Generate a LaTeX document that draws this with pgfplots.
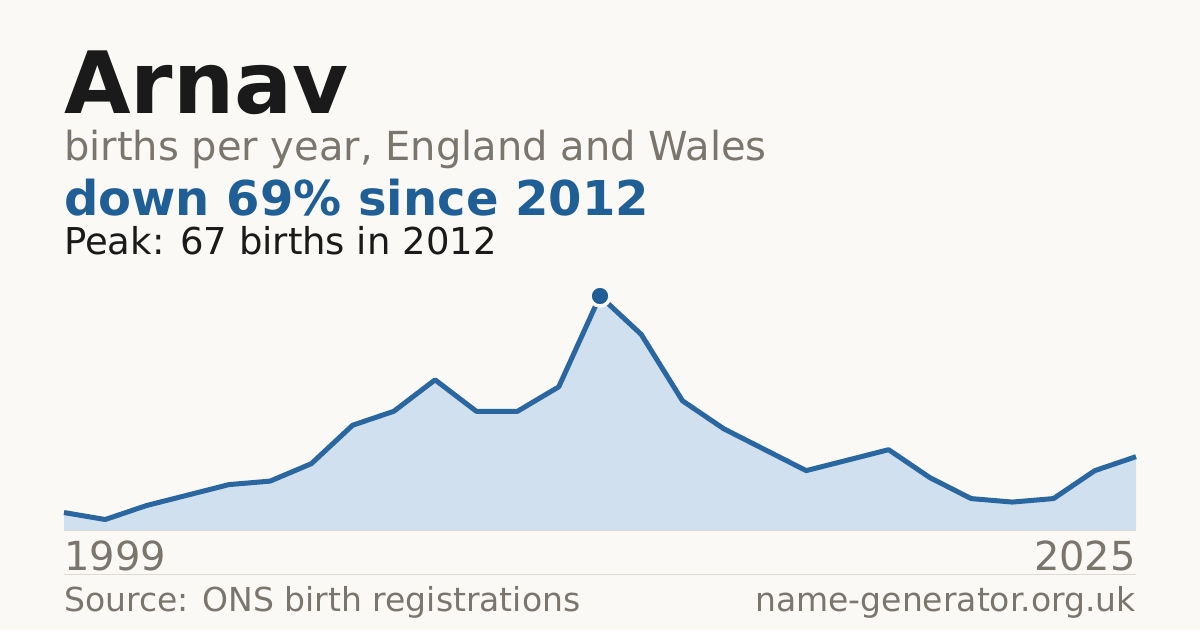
\documentclass[border=0pt]{standalone}
\usepackage{pgfplots}
\pgfplotsset{compat=1.18}
\usepackage{fontspec}
\setmainfont{DejaVu Sans}
\definecolor{bg}{HTML}{FAF9F5}
\definecolor{ink}{HTML}{1A1A1A}
\definecolor{muted}{HTML}{7A756D}
\definecolor{accent}{HTML}{1F5F96}
\definecolor{linec}{HTML}{2A67A0}
\definecolor{fillc}{HTML}{D0E0EF}
\definecolor{rule}{HTML}{DDDAD3}
\begin{document}
\begin{tikzpicture}[x=1pt,y=1pt]
\fill[bg] (0,0) rectangle (1200,-630);
\node[anchor=base west,inner sep=0,text=ink] at (64,-113) {\fontsize{86}{86}\selectfont\bfseries Arnav};
\node[anchor=base west,inner sep=0,text=muted] at (64,-160) {\fontsize{40}{40}\selectfont births per year, England and Wales};
\node[anchor=base west,inner sep=0,text=accent] at (64,-215) {\fontsize{48}{48}\selectfont\bfseries down 69\% since 2012};
\node[anchor=base west,inner sep=0,text=ink] at (64,-254) {\fontsize{37}{37}\selectfont Peak: 67 births in 2012};
\begin{axis}[
  at={(64pt,-530pt)}, anchor=south west,
  scale only axis, width=1072pt, height=234pt,
  xmin=1999, xmax=2025, ymin=0, ymax=67,
  axis lines=none, clip=false,
]
\addplot[draw=none, fill=fillc] coordinates {
(1999,5) (2000,3) (2001,7) (2002,10) (2003,13) (2004,14) (2005,19) (2006,30) (2007,34) (2008,43) (2009,34) (2010,34) (2011,41) (2012,67) (2013,56) (2014,37) (2015,29) (2016,23) (2017,17) (2018,20) (2019,23) (2020,15) (2021,9) (2022,8) (2023,9) (2024,17) (2025,21)
} \closedcycle;
\addplot[linec, line width=5pt, line join=round] coordinates {
(1999,5) (2000,3) (2001,7) (2002,10) (2003,13) (2004,14) (2005,19) (2006,30) (2007,34) (2008,43) (2009,34) (2010,34) (2011,41) (2012,67) (2013,56) (2014,37) (2015,29) (2016,23) (2017,17) (2018,20) (2019,23) (2020,15) (2021,9) (2022,8) (2023,9) (2024,17) (2025,21)
};
\addplot[only marks, mark=*, mark size=10pt, mark options={fill=accent, draw=bg, line width=3.5pt}] coordinates {(2012,67)};
\end{axis}
\draw[rule, line width=1pt] (64,-530) -- (1136,-530);
\node[anchor=base west,inner sep=0,text=muted] at (64,-570) {\fontsize{40}{40}\selectfont 1999};
\node[anchor=base east,inner sep=0,text=muted] at (1136,-570) {\fontsize{40}{40}\selectfont 2025};
\draw[rule, line width=1pt] (64,-574.5) -- (1136,-574.5);
\node[anchor=base west,inner sep=0,text=muted] at (64,-611) {\fontsize{33}{33}\selectfont Source: ONS birth registrations};
\node[anchor=base east,inner sep=0,text=muted] at (1136,-611) {\fontsize{33}{33}\selectfont name-generator.org.uk};
\end{tikzpicture}
\end{document}
